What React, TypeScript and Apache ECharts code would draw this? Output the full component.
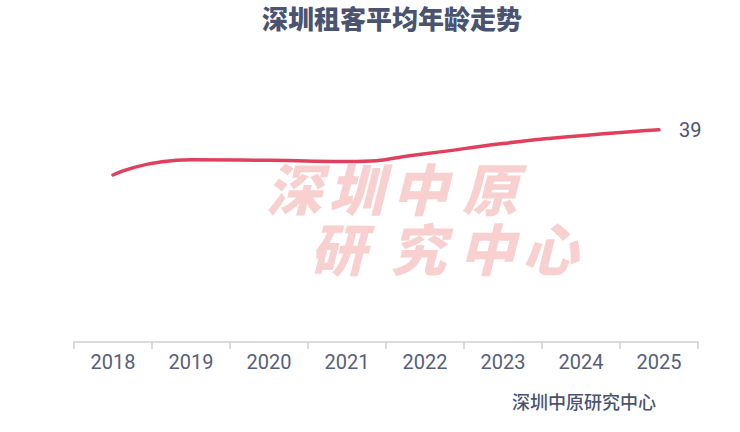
import React, { useEffect, useRef } from "react";
import * as echarts from "echarts";

const years = ["2018", "2019", "2020", "2021", "2022", "2023", "2024", "2025"];
const avgAge = [30.7, 33.5, 33.4, 33.2, 34.6, 36.5, 37.9, 39];
const titleText = "深圳租客平均年龄走势";
const sourceText = "深圳中原研究中心";
const watermarkLine1 = ["深", "圳", "中", "原"];
const watermarkLine2 = ["研", "究", "中", "心"];

export default function App() {
  const ref = useRef<HTMLDivElement>(null);
  useEffect(() => {
    if (!ref.current) return;
    const chart = echarts.init(ref.current, null, { renderer: "svg" });
    const wmColor = "#f9d0d0";
    const wm1x = [294, 356, 420, 490];
    const wm2x = [338, 418, 487, 550];
    const wmEls: any[] = [];
    const mk = (c: string, x: number, y: number) => ({
      type: "text",
      x,
      y,
      z: -10,
      style: {
        text: c,
        fill: wmColor,
        font: "italic 900 56px 'Noto Sans CJK SC'",
        lineHeight: 52,
        textAlign: "center",
        textVerticalAlign: "middle",
      },
    });
    watermarkLine1.forEach((c, i) => wmEls.push(mk(c, wm1x[i], 186)));
    watermarkLine2.forEach((c, i) => wmEls.push(mk(c, wm2x[i], 246)));
    chart.setOption({
      animation: false,
      title: {
        text: titleText,
        left: 262,
        top: 0,
        padding: [4, 0, 0, 0],
        textStyle: {
          fontFamily: "'Noto Sans CJK SC'",
          fontSize: 26,
          fontWeight: 900,
          color: "#4a5470",
        },
      },
      grid: { left: 74, right: 42, top: 70, bottom: 90 },
      xAxis: {
        type: "category",
        data: years,
        boundaryGap: true,
        axisLine: { lineStyle: { color: "#d0d0d0", width: 1.5 } },
        axisTick: { show: true, interval: 0, length: 7, lineStyle: { color: "#d0d0d0", width: 1.5 } },
        axisLabel: {
          margin: 10,
          fontFamily: "'Liberation Sans Narrow', 'Roboto'",
          fontSize: 20,
          color: "#56607a",
        },
      },
      yAxis: {
        type: "value",
        min: 0,
        max: 50,
        show: false,
        splitLine: { show: false },
      },
      series: [
        {
          type: "line",
          data: avgAge,
          smooth: 0.6,
          symbol: "none",
          lineStyle: { color: "#e0405e", width: 3.5, cap: "round" },
          endLabel: {
            show: true,
            formatter: (p: any) => String(Math.round(p.value)),
            distance: 20,
            fontFamily: "'Liberation Sans Narrow', 'Roboto'",
            fontSize: 20,
            color: "#4a5470",
          },
          z: 5,
        },
      ],
      graphic: [
        ...wmEls,
        {
          type: "text",
          x: 512,
          y: 401,
          style: {
            text: sourceText,
            fill: "#4a5470",
            font: "500 18px 'Noto Sans CJK SC'",
            textAlign: "left",
            textVerticalAlign: "middle",
          },
        },
      ],
    });
    return () => chart.dispose();
  }, []);
  return (
    <div
      ref={ref}
      style={{ position: "fixed", left: 0, top: 0, width: 740, height: 432, background: "#fff" }}
    />
  );
}
